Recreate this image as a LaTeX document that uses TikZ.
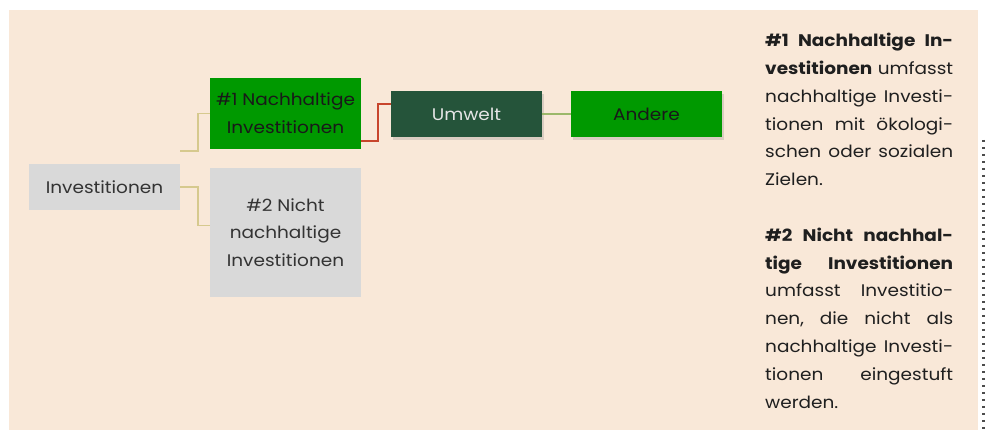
\documentclass[tikz,border=0pt]{standalone}
\usepackage{fontspec}
\setmainfont{Poppins}[FakeStretch=1.1]
\usetikzlibrary{shadows}
\definecolor{bgpeach}{HTML}{F9E8D8}
\definecolor{boxgray}{HTML}{D9D9D9}
\definecolor{boxgreen}{HTML}{009900}
\definecolor{darkgreen}{HTML}{25543A}
\definecolor{lntan}{HTML}{D6C98E}
\definecolor{lnred}{HTML}{C8452C}
\definecolor{lnolive}{HTML}{9CB86A}
\definecolor{txtdark}{HTML}{333333}
\newcommand\jl[1]{\leavevmode\hbox to 188pt{#1}}
\begin{document}
\begin{tikzpicture}[x=1pt,y=-1pt,
  box/.style={rectangle, inner sep=0pt, align=center, minimum width=151pt,
    font=\fontsize{16.8}{27.8}\selectfont},
  graybox/.style={box, fill=boxgray, text=txtdark},
  greenbox/.style={box, fill=boxgreen, text=black!90},
  shadowed/.style={drop shadow={opacity=0.25, shadow xshift=2pt, shadow yshift=-3pt}},
  conn/.style={line width=1.6pt},
  para/.style={anchor=base west, inner sep=0pt, align=left, text width=188pt,
    font=\fontsize{16.8}{27.8}\selectfont, text=black!88}
]
\useasboundingbox (0,0) rectangle (989,430);
\fill[white] (0,0) rectangle (989,430);
\fill[bgpeach] (9,10) rectangle (978,430);
% clipped vertical text artifact at right edge
\draw[black!70, line width=3pt, dash pattern=on 2.5pt off 4.5pt] (983,140) -- (983,430);

\node[graybox, minimum height=46pt] (inv) at (104.5,187) {Investitionen};
\node[greenbox, minimum height=71pt] (n1) at (285.5,113.5) {\#1 Nachhaltige\\Investitionen};
\node[graybox, minimum height=129pt] (n2) at (285.5,232.5) {\#2 Nicht\\nachhaltige\\Investitionen};
\node[box, shadowed, fill=darkgreen, text=white!90!black, minimum height=46pt] (umw) at (466.5,114) {Umwelt};
\node[greenbox, shadowed, minimum height=46pt] (and) at (646.5,114) {Andere};

\coordinate (c1) at (180,151);
\draw[conn, lntan] (c1) -- ++(18,0) |- (n1.west);
\draw[conn, lntan] (inv.east) -- ++(18,0) |- ([yshift=7pt]n2.west);
\draw[conn, lnred] ([yshift=-27.5pt]n1.east) -- ++(17,0) |- ([yshift=10pt]umw.west);
\draw[conn, lnolive] (umw.east) -- (and.west);

\node[para] (txt) at (765,46.7) {%
\jl{\textbf{\#1\hfill Nachhaltige\hfill In-}}\\
\jl{\textbf{vestitionen}\hfill umfasst}\\
\jl{nachhaltige\hfill Investi-}\\
\jl{tionen\hfill mit\hfill ökologi-}\\
\jl{schen\hfill oder\hfill sozialen}\\
Zielen.\\[27.8pt]
\jl{\textbf{\#2\hfill Nicht\hfill nachhal-}}\\
\jl{\textbf{tige\hfill Investitionen}}\\
\jl{umfasst\hfill Investitio-}\\
\jl{nen,\hfill die\hfill nicht\hfill als}\\
\jl{nachhaltige\hfill Investi-}\\
\jl{tionen\hfill eingestuft}\\
werden.};
\end{tikzpicture}
\end{document}
